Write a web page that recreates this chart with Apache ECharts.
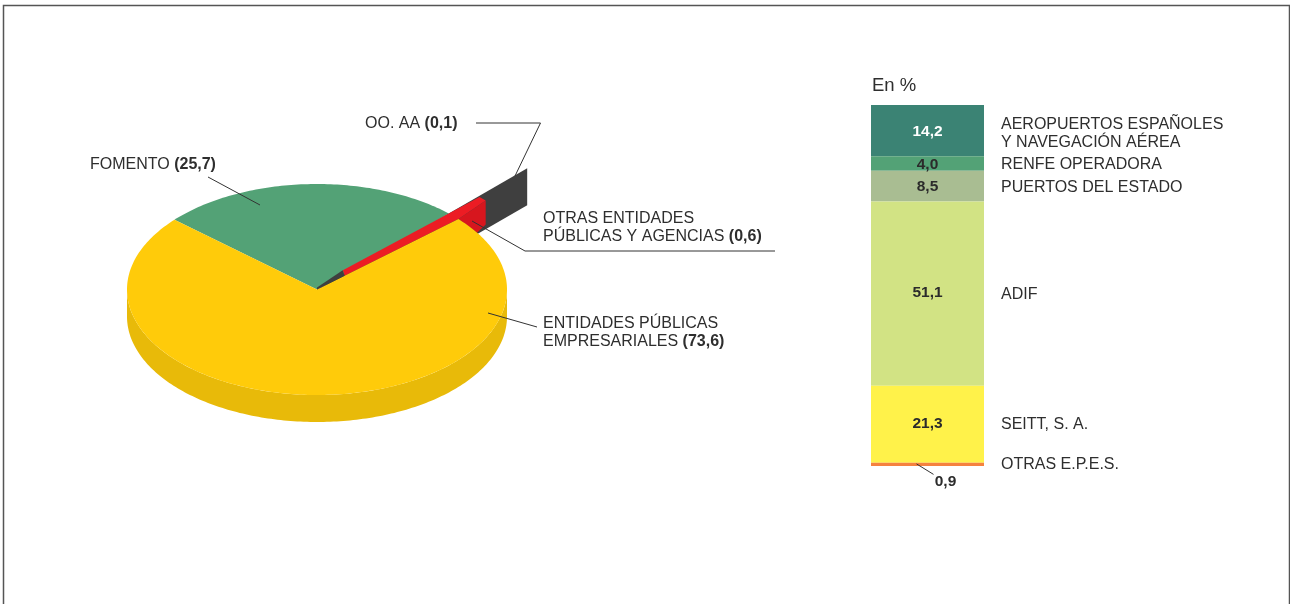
<!DOCTYPE html>
<html>
<head>
<meta charset="utf-8">
<title>Reparto en %</title>
<style>
  html, body { margin: 0; padding: 0; background: #fff; }
  #chart { width: 1290px; height: 604px; }
</style>
<script src="https://cdn.jsdelivr.net/npm/echarts@6/dist/echarts.min.js"></script>
</head>
<body>
<div id="chart"></div>
<script>
// pie data, clockwise from the left edge of FOMENTO
const pieNames = ['FOMENTO', 'OO. AA', 'OTRAS ENTIDADES\nPÚBLICAS Y AGENCIAS', 'ENTIDADES PÚBLICAS\nEMPRESARIALES']
const pieValues = [25.7, 0.1, 0.6, 73.6]

// stacked column data, top to bottom
const barNames = ['AEROPUERTOS ESPAÑOLES\nY NAVEGACIÓN AÉREA', 'RENFE OPERADORA', 'PUERTOS DEL ESTADO', 'ADIF', 'SEITT, S. A.', 'OTRAS E.P.E.S.']
const barValues = [14.2, 4.0, 8.5, 51.1, 21.3, 0.9]
const barColors = ['#3b8374', '#53a276', '#a9bd92', '#d2e384', '#fff24a', '#f5823f']
const barLabelColors = ['#ffffff', '#2b2b2b', '#2b2b2b', '#2b2b2b', '#2b2b2b', '#2b2b2b']

const FONT = '"Liberation Sans", Arial, sans-serif'
const TEXT = '#2e2e2e'
const LINE = '#333333'

// fake 3d pie
const CX = 317, CY = 289.5, RX = 190, RY = 105.5, DEPTH = 27
const START_ANGLE = 138.6
const YELLOW_GAP = 1.7 // the red slice is drawn a bit wider at the rim
const DARK_K = 1.595, DARK_H = 37
const RED_K = 1.225, RED_H = 24, RED_FOOT = 32.6
const NECK_K = 0.195, NECK_LIFT = 4.5 // where the dark hub hands over to the red strip

// small nudges, the source text is not exactly centred on its segment
const barNameDy = [3, 1.5, 1.5, 0.5, 0.5, 0.5]
const barLabelDy = [1, 1.5, 0.5, -0.5, -1, 3]

const fmt = (v) => v.toFixed(1).replace('.', ',')

function pt(deg, k) {
  const a = (deg * Math.PI) / 180
  return [CX + RX * k * Math.cos(a), CY - RY * k * Math.sin(a)]
}

function arc(from, to, dy) {
  const pts = []
  const n = Math.ceil(Math.abs(to - from))
  for (let i = 0; i <= n; i++) {
    const p = pt(from + ((to - from) * i) / n, 1)
    pts.push([p[0], p[1] + dy])
  }
  return pts
}

function sliceAngles() {
  const total = pieValues.reduce((a, b) => a + b, 0)
  let cur = START_ANGLE
  return pieValues.map((v) => {
    const from = cur
    cur -= (v / total) * 360
    return [from, cur]
  })
}

function poly(points, fill) {
  return { type: 'polygon', shape: { points }, style: { fill }, silent: true }
}

function neckTop(deg) {
  const p = pt(deg, NECK_K)
  return [p[0], p[1] - NECK_LIFT]
}

function renderSlice(params) {
  const i = params.dataIndex
  const [from, to] = sliceAngles()[i]
  const apex = [CX, CY]
  if (i === 0) {
    return poly([apex].concat(arc(from, to, 0)), '#53a276')
  }
  if (i === 1) {
    const tip = pt(from, DARK_K)
    return poly([apex, tip, [tip[0], tip[1] + DARK_H], [CX, CY + DARK_H]], '#3f3f3f')
  }
  if (i === 2) {
    const a = pt(from, RED_K)
    const b = pt(to, RED_K)
    const rim = pt(to - YELLOW_GAP, 1)
    return {
      type: 'group',
      children: [
        poly([b, [b[0], b[1] + RED_H], pt(RED_FOOT, 1), rim], '#d7161e'),
        poly([neckTop(from), a, b, rim, pt(to - YELLOW_GAP, NECK_K)], '#ec1c24'),
      ],
    }
  }
  // big slice: wall first, top above it, then the dark bit at the hub
  const first = sliceAngles()[1][0]
  const startYellow = from - YELLOW_GAP
  const top = arc(startYellow, to, 0)
  const wallUp = arc(0, -180, 0)
  const wallDown = arc(-180, 0, DEPTH)
  return {
    type: 'group',
    children: [
      poly(wallUp.concat(wallDown), '#e8ba09'),
      poly([apex].concat(top), '#ffcb0a'),
      poly([apex, [CX, CY - 2], neckTop(first), pt(startYellow, NECK_K)], '#3f3f3f'),
    ],
  }
}

// label text sits with its leader line, both only annotations
const pieLabelPos = [
  { x: 90, y: 165, leader: [[208, 177], [260, 205]] },
  { x: 365, y: 123.5, leader: [[476, 123], [540.5, 123], [515, 176]] },
  { x: 543, y: 227.5, leader: [[775, 251], [525, 251], [472, 221]] },
  { x: 543, y: 332.5, leader: [[488, 313], [537, 327]] },
]

function renderPieLabel(params) {
  const i = params.dataIndex
  const pos = pieLabelPos[i]
  return {
    type: 'group',
    children: [
      {
        type: 'polyline',
        shape: { points: pos.leader },
        style: { stroke: LINE, lineWidth: 1, fill: 'none' },
        silent: true,
      },
      {
        type: 'text',
        x: pos.x,
        y: pos.y,
        silent: true,
        style: {
          text: pieNames[i] + ' {b|(' + fmt(pieValues[i]) + ')}',
          fill: TEXT,
          fontFamily: FONT,
          fontSize: 16,
          lineHeight: 18.5,
          verticalAlign: 'middle',
          rich: { b: { fontFamily: FONT, fontSize: 16, fontWeight: 'bold', fill: TEXT, lineHeight: 18.5 } },
        },
      },
    ],
  }
}

function barMid(i) {
  let sum = 0
  for (let j = 0; j < i; j++) sum += barValues[j]
  return sum + barValues[i] / 2
}

function renderBarName(params, api) {
  const i = params.dataIndex
  const rect = params.coordSys
  const p = api.coord(['', barMid(i)])
  return {
    type: 'text',
    x: rect.x + rect.width + 17,
    y: p[1] + barNameDy[i],
    silent: true,
    style: {
      text: barNames[i],
      fill: TEXT,
      fontFamily: FONT,
      fontSize: 16,
      lineHeight: 18.5,
      verticalAlign: 'middle',
    },
  }
}

function renderSmallLeader(params, api) {
  const i = barValues.length - 1
  const p = api.coord(['', barMid(i)])
  return {
    type: 'line',
    shape: { x1: p[0] - 11, y1: p[1] - 0.5, x2: p[0] + 6, y2: p[1] + 10 },
    style: { stroke: LINE, lineWidth: 1 },
    silent: true,
  }
}

const barSeries = barValues.map((v, i) => ({
  type: 'bar',
  name: barNames[i],
  stack: 'total',
  barWidth: '100%',
  data: [v],
  itemStyle: { color: barColors[i] },
  silent: true,
  label: {
    show: true,
    position: i === barValues.length - 1 ? 'bottom' : 'inside',
    offset: [i === barValues.length - 1 ? 18 : 0, barLabelDy[i]],
    formatter: fmt(v),
    color: barLabelColors[i],
    fontFamily: FONT,
    fontWeight: 'bold',
    fontSize: 15.5,
  },
}))

const chart = echarts.init(document.getElementById('chart'))
chart.setOption({
  animation: false,
  backgroundColor: '#ffffff',
  title: {
    text: 'En %',
    left: 867,
    top: 71,
    textStyle: { color: TEXT, fontFamily: FONT, fontSize: 18.5, fontWeight: 'normal' },
  },
  grid: { left: 871, top: 105, width: 113, height: 361 },
  xAxis: { type: 'category', data: [''], show: false },
  yAxis: { type: 'value', inverse: true, min: 0, max: 100, show: false },
  graphic: [
    {
      type: 'rect',
      shape: { x: 3.5, y: 5.5, width: 1286, height: 640 },
      style: { fill: 'none', stroke: '#555555', lineWidth: 1.5 },
      silent: true,
      z: -10,
    },
  ],
  series: barSeries.concat([
    {
      type: 'custom',
      coordinateSystem: 'none',
      data: pieValues.map((v) => [v]),
      renderItem: renderSlice,
      silent: true,
      z: 3,
    },
    {
      type: 'custom',
      coordinateSystem: 'none',
      data: pieValues.map((v) => [v]),
      renderItem: renderPieLabel,
      silent: true,
      z: 4,
    },
    {
      type: 'custom',
      data: barValues.map((v, i) => ['', barMid(i)]),
      encode: { x: 0, y: 1 },
      renderItem: renderBarName,
      silent: true,
      clip: false,
      z: 4,
    },
    {
      type: 'custom',
      data: [['', barMid(barValues.length - 1)]],
      encode: { x: 0, y: 1 },
      renderItem: renderSmallLeader,
      silent: true,
      clip: false,
      z: 4,
    },
  ]),
})
</script>
</body>
</html>
